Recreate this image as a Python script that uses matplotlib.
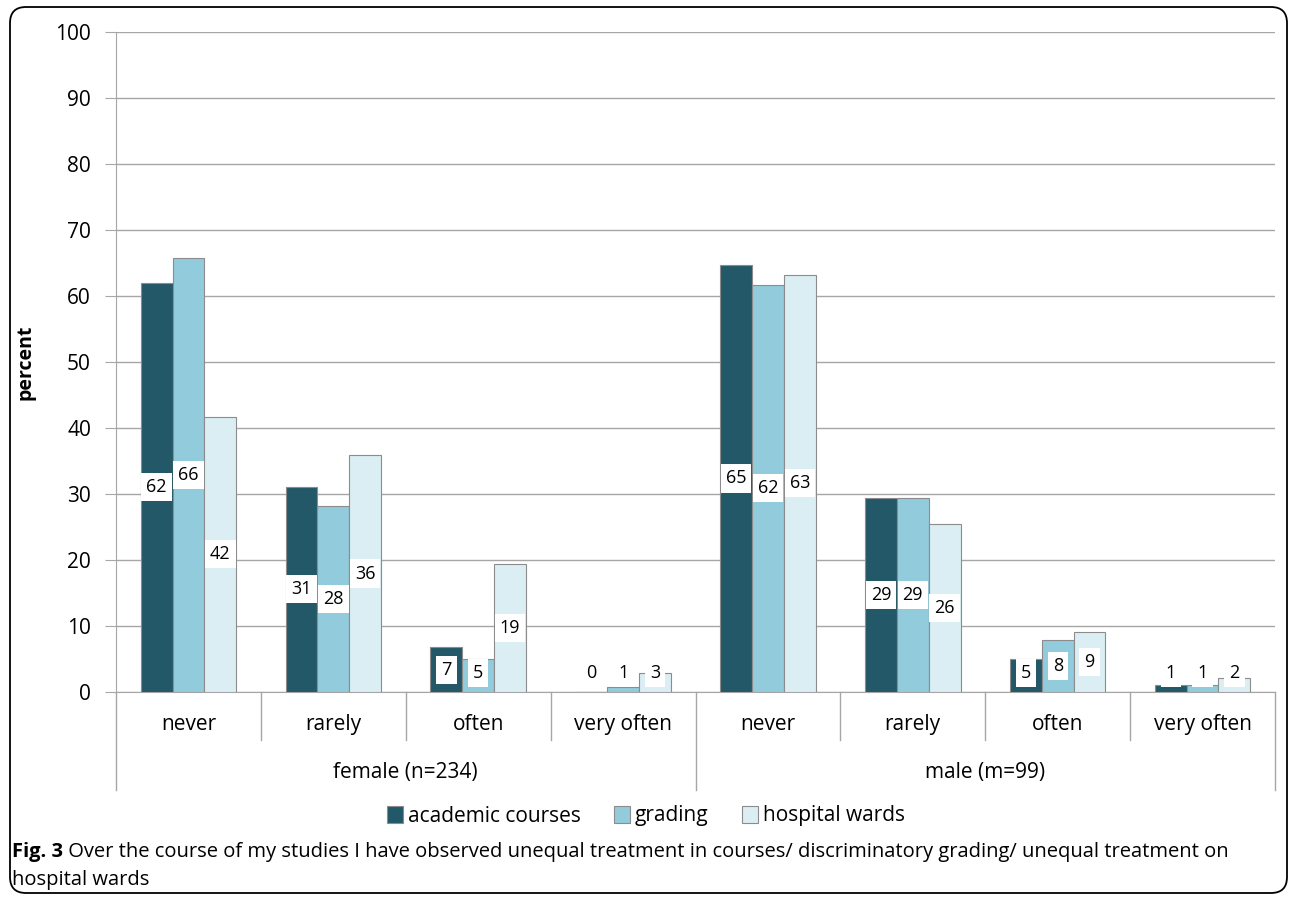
import numpy as np
from matplotlib import pyplot as plt
from matplotlib.patches import FancyBboxPatch, Patch
from matplotlib.transforms import IdentityTransform, blended_transform_factory

plt.rcParams['font.family'] = ['Open Sans', 'DejaVu Sans']

# data
groups = ['female (n=234)', 'male (m=99)']
categories = ['never', 'rarely', 'often', 'very often',
              'never', 'rarely', 'often', 'very often']
series = ['academic courses', 'grading', 'hospital wards']
academic = [62.0, 31.1, 6.8, 0.0, 64.7, 29.4, 5.0, 1.0]
grading = [65.8, 28.2, 5.0, 0.8, 61.7, 29.4, 7.9, 1.0]
wards = [41.7, 35.9, 19.4, 2.9, 63.2, 25.5, 9.1, 2.1]
colors = ['#235868', '#92CBDC', '#DAEEF3']
caption_bold = 'Fig. 3'
caption_line1 = (' Over the course of my studies I have observed unequal treatment in courses/ '
                 'discriminatory grading/ unequal treatment on')
caption_line2 = 'hospital wards'

W, H = 1292, 900
fig = plt.figure(figsize=(W / 100, H / 100), dpi=100)

# rounded frame round the whole figure
frame = FancyBboxPatch((10, 7), 1277, 886, boxstyle='round,pad=0,rounding_size=16',
                       transform=IdentityTransform(), fc='none', ec='black', lw=1.3)
fig.add_artist(frame)

ax = fig.add_axes([116 / W, 1 - 692 / H, 1159 / W, 660 / H])

bw = 0.22
x = np.arange(len(categories)) + 0.5
for k, vals in enumerate([academic, grading, wards]):
    xs = x + (k - 1) * bw
    ax.bar(xs, vals, width=bw, color=colors[k], edgecolor='#8c8c8c', lw=0.8, zorder=3)
    for xi, v in zip(xs, vals):
        ax.text(xi, max(v / 2, 2.9), str(int(round(v))), ha='center', va='center',
                fontsize=13, zorder=4,
                bbox=dict(boxstyle='square,pad=0.28', fc='white', ec='none'))

ax.set_xlim(0, len(categories))
ax.set_ylim(0, 100)
ax.set_yticks(np.arange(0, 101, 10))
ax.tick_params(axis='y', labelsize=15, length=8, color='#a6a6a6', pad=10)
ax.tick_params(axis='x', bottom=False, labelbottom=False)
ax.grid(axis='y', color='#a6a6a6', lw=1, zorder=0)
for s in ['top', 'right']:
    ax.spines[s].set_visible(False)
for s in ['left', 'bottom']:
    ax.spines[s].set_color('#a6a6a6')
ax.set_ylabel('percent', fontsize=14, fontweight='bold', labelpad=14)

# category axis with two levels
tr = blended_transform_factory(ax.transData, ax.transAxes)
for i in range(len(categories) + 1):
    low = -0.148 if i % 4 == 0 else -0.0727
    ax.plot([i, i], [0, low], transform=tr, color='#a6a6a6', lw=1, clip_on=False)
for i, c in enumerate(categories):
    ax.text(i + 0.5, -0.0485, c, transform=tr, ha='center', va='center', fontsize=15)
for j, g in enumerate(groups):
    ax.text(j * 4 + 2, -0.1227, g, transform=tr, ha='center', va='center', fontsize=15)

handles = [Patch(fc=c, ec='#8c8c8c', lw=0.8) for c in colors]
fig.legend(handles, series, loc='center', bbox_to_anchor=(0.5, 1 - 816 / H), ncol=3,
           frameon=False, fontsize=15, handlelength=0.75, handleheight=0.9,
           handletextpad=0.25, columnspacing=1.6)

t1 = fig.text(12 / W, 1 - 852 / H, caption_bold, fontsize=14.5, fontweight='bold',
              va='center')
fig.add_artist(plt.Annotation(caption_line1, xy=(1, 0.5), xycoords=t1, va='center',
                              ha='left', fontsize=14.5, annotation_clip=False))
fig.text(12 / W, 1 - 880 / H, caption_line2, fontsize=14.5, va='center')

fig.savefig('out.png', dpi=100)
